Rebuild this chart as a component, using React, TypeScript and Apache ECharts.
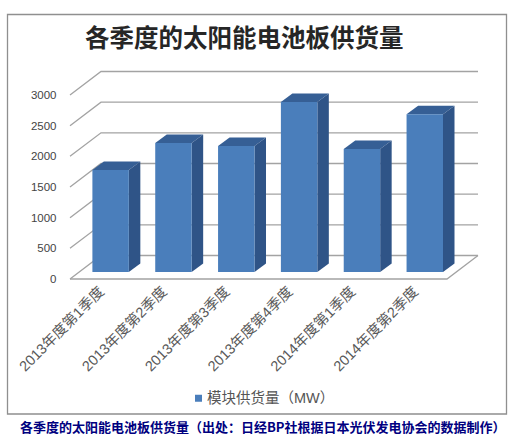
import React, { useEffect, useRef } from "react";
import * as echarts from "echarts";

const categories = [
  "2013年度第1季度",
  "2013年度第2季度",
  "2013年度第3季度",
  "2013年度第4季度",
  "2014年度第1季度",
  "2014年度第2季度",
];
const supply = [1663, 2103, 2054, 2772, 2005, 2571];
const ticks = [0, 500, 1000, 1500, 2000, 2500, 3000];
const seriesName = "模块供货量（MW）";
const titleText = "各季度的太阳能电池板供货量";
const captionText = "各季度的太阳能电池板供货量（出处：日经BP社根据日本光伏发电协会的数据制作）";

const CJK = '"Liberation Sans","Noto Sans CJK SC",sans-serif';
const WALL_DX = 31;
const WALL_DY = -23.5;
const GRID_COLOR = "#a3a3a3";

export default function App() {
  const ref = useRef<HTMLDivElement>(null);
  useEffect(() => {
    const chart = echarts.init(ref.current!, undefined, { renderer: "svg" });
    chart.setOption({
      animation: false,
      backgroundColor: "#fff",
      title: {
        text: titleText,
        left: 80,
        top: 19,
        textStyle: {
          fontFamily: '"Noto Sans CJK SC",sans-serif',
          fontSize: 24.5,
          fontWeight: "bold",
          color: "#262626",
        },
      },
      legend: {
        data: [{ name: seriesName, icon: "rect" }],
        left: 190,
        top: 386,
        itemWidth: 7,
        itemHeight: 7,
        itemGap: 5,
        textStyle: { fontFamily: CJK, fontSize: 14.5, color: "#555" },
      },
      grid: { left: 70, right: 66, top: 95, bottom: 159 },
      xAxis: {
        type: "category",
        data: categories,
        axisLine: { show: false },
        axisTick: { show: false },
        axisLabel: {
          interval: 0,
          rotate: 45,
          margin: 10,
          fontFamily: CJK,
          fontSize: 14.5,
          color: "#595959",
        },
      },
      yAxis: {
        type: "value",
        min: 0,
        max: 3000,
        interval: 500,
        axisLine: { show: false },
        axisTick: { show: false },
        splitLine: { show: false },
        axisLabel: {
          margin: 13.5,
          fontFamily: CJK,
          fontSize: 11.5,
          color: "#444",
          formatter: (v: number) => String(v),
        },
      },
      graphic: [
        {
          type: "rect",
          z: -10,
          shape: { x: 7.5, y: 14.5, width: 499, height: 399.5 },
          style: { fill: "#fff", stroke: "#8f8f8f", lineWidth: 1.3 },
        },
        {
          type: "text",
          x: 20,
          y: 420,
          style: {
            text: captionText,
            fontFamily: '"Noto Sans CJK SC",sans-serif',
            fontSize: 13,
            fontWeight: "bold",
            fill: "#00007f",
          },
        },
      ],
      series: [
        {
          name: "walls",
          type: "custom",
          z: 1,
          data: ticks.map((t) => [0, t]),
          silent: true,
          renderItem: (params: any, api: any) => {
            const cs = params.coordSys;
            const x0 = cs.x;
            const x1 = cs.x + cs.width;
            const y = api.coord([0, api.value(1)])[1];
            const style = { stroke: GRID_COLOR, lineWidth: 1.3, fill: "none" };
            const children: any[] = [
              {
                type: "polyline",
                shape: {
                  points: [
                    [x0, y],
                    [x0 + WALL_DX, y + WALL_DY],
                    [x1 + WALL_DX, y + WALL_DY],
                  ],
                },
                style,
              },
            ];
            if (api.value(1) === 0) {
              children.push({
                type: "polyline",
                shape: {
                  points: [
                    [x0, y],
                    [x1, y],
                    [x1 + WALL_DX, y + WALL_DY],
                  ],
                },
                style,
              });
            }
            return { type: "group", children };
          },
        },
        {
          name: seriesName,
          type: "custom",
          z: 2,
          itemStyle: { color: "#4a7ebb" },
          data: supply.map((v, i) => [i, v]),
          renderItem: (_params: any, api: any) => {
            const i = api.value(0);
            const base = api.coord([i, 0]);
            const top = api.coord([i, api.value(1)]);
            const w = api.size([1, 0])[0] * 0.58;
            const shiftX = 9.2;
            const shiftY = -7;
            const dx = 11.5;
            const dy = -8.5;
            const l = base[0] + shiftX - w / 2;
            const r = l + w;
            const b = base[1] + shiftY;
            const t = top[1] + shiftY;
            return {
              type: "group",
              children: [
                {
                  type: "polygon",
                  shape: { points: [[l, t], [l + dx, t + dy], [r + dx, t + dy], [r, t]] },
                  style: { fill: "#365f95" },
                },
                {
                  type: "polygon",
                  shape: { points: [[r, t], [r + dx, t + dy], [r + dx, b + dy], [r, b]] },
                  style: { fill: "#2f5487" },
                },
                {
                  type: "rect",
                  shape: { x: l, y: t, width: w, height: b - t },
                  style: { fill: "#4a7ebb" },
                },
              ],
            };
          },
        },
      ],
    });
    return () => chart.dispose();
  }, []);
  return (
    <div
      ref={ref}
      style={{ position: "fixed", left: 0, top: 0, width: 513, height: 438 }}
    />
  );
}
